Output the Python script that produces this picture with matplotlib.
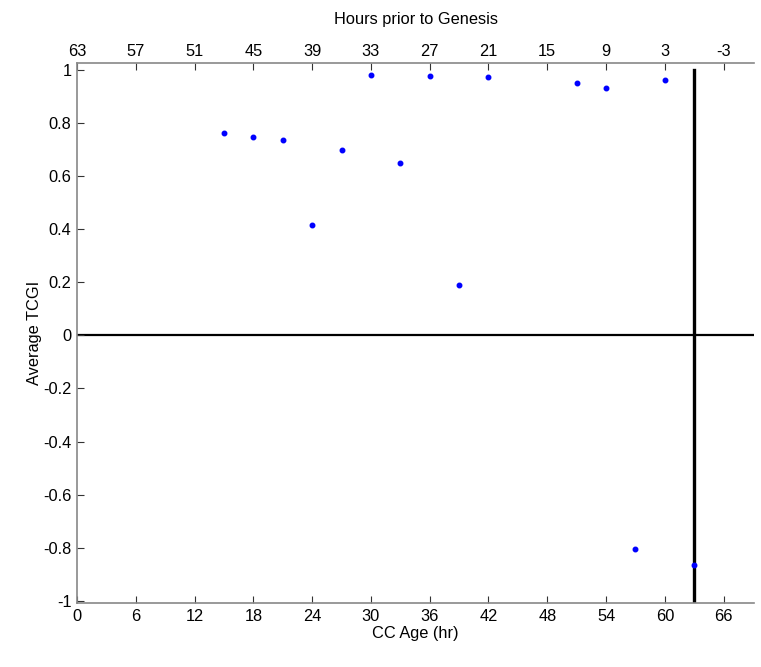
import matplotlib
matplotlib.use('Agg')
import matplotlib.pyplot as plt

plt.rcParams['font.family'] = ['Liberation Sans', 'DejaVu Sans']
plt.rcParams['font.size'] = 11.8
plt.rcParams['axes.unicode_minus'] = False

cc_age = [15, 18, 21, 24, 27, 30, 33, 36, 39, 42, 51, 54, 57, 60, 63]
tcgi = [0.764, 0.746, 0.737, 0.416, 0.699, 0.981, 0.648, 0.977, 0.189,
        0.972, 0.949, 0.931, -0.806, 0.961, -0.866]
genesis_age = 63
bottom_ticks = list(range(0, 67, 6))
top_ticks = list(range(63, -4, -6))
y_ticks = [-1, -0.8, -0.6, -0.4, -0.2, 0, 0.2, 0.4, 0.6, 0.8, 1]

fig = plt.figure(figsize=(7.61, 6.67), dpi=100)
ax = fig.add_axes([0.1012, 0.096, 0.8896, 0.8095])

ax.axhline(0, color='black', lw=1.6, zorder=1)
ax.plot([genesis_age, genesis_age], [-1.008, 1.0], color='black', lw=2.4, zorder=2)
ax.plot(cc_age, tcgi, '.', color='blue', markersize=6.5, zorder=3)

ax.set_xlim(0, 69.1)
ax.set_ylim(-1.008, 1.026)
ax.set_xticks(bottom_ticks)
ax.set_yticks(y_ticks)
ax.set_yticklabels(['-1', '-0.8', '-0.6', '-0.4', '-0.2', '0', '0.2', '0.4', '0.6', '0.8', '1'])
ax.set_xlabel('CC Age (hr)', labelpad=2)
ax.set_ylabel('Average TCGI', labelpad=1)

ax.spines['right'].set_visible(False)
ax.spines['top'].set_visible(False)
for s in ['left', 'bottom']:
    ax.spines[s].set_color('#888888')
    ax.spines[s].set_linewidth(1.2)
ax.tick_params(direction='in', length=5, color='#333333', pad=4)

sec = ax.secondary_xaxis('top', functions=(lambda x: genesis_age - x, lambda x: genesis_age - x))
sec.set_xticks(top_ticks)
sec.set_xlabel('Hours prior to Genesis', labelpad=14)
sec.spines['top'].set_color('#888888')
sec.spines['top'].set_linewidth(1.2)
sec.tick_params(direction='in', length=5, color='#333333', pad=3)

fig.savefig('out.png', dpi=100)
